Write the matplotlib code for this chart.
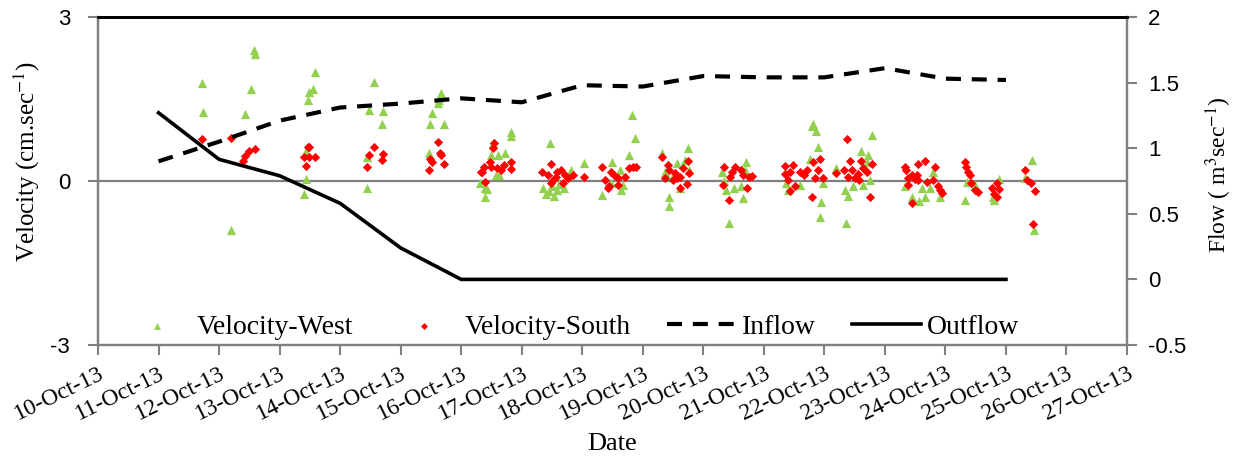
import datetime
import matplotlib
matplotlib.use("Agg")
import matplotlib.pyplot as plt
import matplotlib.dates as mdates

plt.rcParams['mathtext.fontset'] = 'stix'
plt.rcParams['axes.unicode_minus'] = False

# day-of-month (October 2013, fractional) and velocity (cm/sec)
west_day = [11.71, 11.73, 12.19, 12.43, 12.52, 12.58, 12.60,
            13.41, 13.43, 13.44, 13.47, 13.49, 13.55, 13.59,
            14.44, 14.45, 14.48, 14.56, 14.70, 14.71,
            15.47, 15.49, 15.51, 15.61, 15.63, 15.66, 15.72,
            16.31, 16.40, 16.40, 16.42, 16.50, 16.52, 16.57, 16.61, 16.63, 16.73, 16.82, 16.83,
            17.35, 17.40, 17.45, 17.46, 17.50, 17.53, 17.58, 17.62, 17.70, 17.81, 18.03,
            18.32, 18.48, 18.49, 18.62, 18.64, 18.67, 18.77, 18.82, 18.87,
            19.32, 19.37, 19.43, 19.44, 19.50, 19.57, 19.61, 19.69, 19.75, 19.77,
            20.31, 20.35, 20.38, 20.42, 20.51, 20.62, 20.66, 20.69, 20.70,
            21.37, 21.40, 21.59, 21.76, 21.79, 21.82, 21.87, 21.89, 21.93, 21.95, 21.98,
            22.20, 22.34, 22.36, 22.39, 22.48, 22.60, 22.64, 22.70, 22.72, 22.75, 22.78,
            23.33, 23.44, 23.56, 23.61, 23.66, 23.75, 23.80, 23.91,
            24.33, 24.35, 24.49, 24.78, 24.80, 24.88,
            25.32, 25.43, 25.46]
west_vel = [1.79, 1.27, -0.90, 1.22, 1.69, 2.40, 2.33,
            -0.24, 0.04, 0.55, 1.49, 1.63, 1.68, 2.00,
            -0.13, 0.44, 1.30, 1.82, 1.05, 1.28,
            0.51, 1.05, 1.24, 1.43, 1.48, 1.61, 1.05,
            -0.04, -0.12, -0.29, -0.14, 0.48, 0.70, 0.11, 0.48, 0.11, 0.52, 0.90, 0.82,
            -0.13, -0.24, -0.18, 0.70, -0.10, -0.27, -0.16, -0.05, -0.12, 0.20, 0.33,
            -0.26, -0.04, 0.35, 0.21, -0.16, -0.08, 0.48, 1.21, 0.78,
            0.52, 0.17, -0.46, -0.29, 0.10, 0.33, -0.13, 0.38, 0.60, 0.20,
            0.17, 0.00, -0.16, -0.77, -0.12, -0.09, -0.32, 0.20, 0.35,
            -0.03, -0.16, -0.07, 0.41, 1.01, 1.04, 0.92, 0.63, -0.65, -0.38, -0.04,
            0.23, -0.16, -0.77, -0.27, -0.10, 0.54, -0.07, 0.35, 0.48, 0.02, 0.84,
            -0.10, -0.29, -0.36, -0.13, -0.29, -0.12, 0.17, -0.29,
            -0.35, -0.01, -0.07, -0.30, -0.35, 0.03,
            0.05, 0.38, -0.90]

south_day = [11.72, 12.19, 12.40, 12.43, 12.50, 12.59,
             13.41, 13.43, 13.47, 13.48, 13.49, 13.58,
             14.44, 14.48, 14.56, 14.69, 14.71,
             15.47, 15.49, 15.51, 15.61, 15.65, 15.66, 15.72,
             16.32, 16.35, 16.38, 16.40, 16.48, 16.50, 16.53, 16.54, 16.60, 16.66, 16.71, 16.82, 16.83,
             17.34, 17.43, 17.48, 17.48, 17.51, 17.57, 17.59, 17.65, 17.68, 17.72, 17.76, 17.84, 18.03,
             18.32, 18.37, 18.42, 18.45, 18.48, 18.53, 18.59, 18.59, 18.70, 18.78, 18.84, 18.89,
             19.32, 19.37, 19.42, 19.44, 19.50, 19.53, 19.57, 19.62, 19.62, 19.66, 19.73, 19.75, 19.77,
             20.33, 20.35, 20.42, 20.44, 20.47, 20.52, 20.63, 20.66, 20.73, 20.75, 20.81,
             21.35, 21.35, 21.40, 21.43, 21.43, 21.49, 21.52, 21.59, 21.67, 21.72, 21.80,
             21.82, 21.84, 21.89, 21.93, 21.97,
             22.20, 22.33, 22.38, 22.39, 22.42, 22.45, 22.50, 22.55, 22.58, 22.60, 22.64, 22.70, 22.75, 22.79,
             23.34, 23.35, 23.38, 23.39, 23.44, 23.45, 23.50, 23.53, 23.55, 23.55, 23.66, 23.69,
             23.80, 23.83, 23.87, 23.91, 23.95,
             24.33, 24.34, 24.37, 24.41, 24.43, 24.49, 24.54,
             24.77, 24.80, 24.85, 24.85, 24.88,
             25.32, 25.35, 25.42, 25.45, 25.48]
south_vel = [0.76, 0.79, 0.37, 0.46, 0.54, 0.58,
             0.43, 0.27, 0.62, 0.43, 0.62, 0.43,
             0.25, 0.48, 0.63, 0.38, 0.49,
             0.20, 0.41, 0.35, 0.71, 0.52, 0.48, 0.31,
             0.17, 0.17, 0.26, -0.01, 0.35, 0.26, 0.60, 0.70, 0.23, 0.20, 0.29, 0.22, 0.35,
             0.17, 0.11, 0.31, -0.04, 0.02, 0.08, 0.17, 0.20, -0.04, 0.11, 0.05, 0.11, 0.07,
             0.26, 0.02, -0.13, -0.10, 0.17, 0.11, -0.07, 0.05, 0.07, 0.23, 0.25, 0.26,
             0.44, 0.05, 0.29, 0.20, 0.02, 0.14, 0.05, 0.08, -0.13, 0.23, -0.05, 0.37, 0.14,
             -0.07, 0.26, -0.35, 0.08, 0.17, 0.26, 0.20, 0.11, -0.13, 0.08, 0.09,
             0.27, 0.13, 0.01, 0.17, -0.18, 0.29, -0.09, 0.17, 0.11, 0.20, -0.29,
             0.35, 0.05, 0.21, 0.40, 0.05,
             0.14, 0.20, 0.76, 0.08, 0.37, 0.20, 0.05, 0.12, 0.02, 0.37, 0.23, 0.17, -0.29, 0.32,
             0.26, 0.21, -0.07, 0.05, 0.11, -0.40, 0.03, 0.11, 0.31, 0.02, 0.37, -0.01,
             0.02, 0.26, -0.09, -0.16, -0.22,
             0.35, 0.26, 0.17, 0.11, -0.04, -0.16, -0.20,
             -0.13, -0.24, -0.04, -0.29, -0.15,
             0.20, 0.02, -0.04, -0.79, -0.18]

# daily flow (m3/sec)
flow_day = [11, 12, 13, 14, 15, 16, 17, 18, 19, 20, 21, 22, 23, 24, 25]
inflow = [0.90, 1.05, 1.21, 1.31, 1.34, 1.38, 1.35, 1.48, 1.47, 1.55, 1.54, 1.54, 1.61, 1.53, 1.52]
outflow = [1.27, 0.915, 0.79, 0.58, 0.24, 0.0, 0.0, 0.0, 0.0, 0.0, 0.0, 0.0, 0.0, 0.0, 0.0]

base = mdates.date2num(datetime.datetime(2013, 10, 1))


def to_num(days):
    return [base + d - 1 for d in days]


serif = 'Liberation Serif'
sans = 'Liberation Sans'
grey = '#808080'

fig = plt.figure(figsize=(12.36, 4.57), dpi=100)
ax = fig.add_axes([0.0793, 0.2451, 0.8325, 0.7177])
ax2 = ax.twinx()

ax.axhline(0, color=grey, lw=1.6, zorder=1)
sw = ax.scatter(to_num(west_day), west_vel, marker='^', s=44, color='#92D050',
                linewidths=0, zorder=2, label='Velocity-West')
ss = ax.scatter(to_num(south_day), south_vel, marker='D', s=22, color='#FF0000',
                linewidths=0, zorder=3, label='Velocity-South')

li, = ax2.plot(to_num(flow_day), inflow, color='black', lw=3,
               linestyle=(0, (3.6, 2.6)), label='Inflow')
lo, = ax2.plot(to_num(flow_day), outflow, color='black', lw=2.6, label='Outflow')

ax.set_xlim(base + 9, base + 26)
ax.set_ylim(-3, 3)
ax.set_yticks([-3, 0, 3])
ax2.set_ylim(-0.5, 2)
ax2.set_yticks([-0.5, 0, 0.5, 1, 1.5, 2])
ax2.set_yticklabels(['-0.5', '0', '0.5', '1', '1.5', '2'])

ax.xaxis.set_major_locator(mdates.DayLocator())
ax.xaxis.set_major_formatter(mdates.DateFormatter('%d-%b-%y'))
for lab in ax.get_xticklabels():
    lab.set_rotation(26)
    lab.set_ha('right')
    lab.set_rotation_mode('anchor')
    lab.set_fontfamily(serif)
    lab.set_fontsize(17)

for a in (ax, ax2):
    for lab in a.get_yticklabels():
        lab.set_fontfamily(sans)
        lab.set_fontsize(16)
    a.tick_params(axis='y', length=7, width=1.5, color=grey, pad=8)
    for s in a.spines.values():
        s.set_color(grey)
        s.set_linewidth(1.6)
    a.spines['top'].set_color('black')
    a.spines['top'].set_linewidth(2)
ax.tick_params(axis='y', pad=13)
ax.tick_params(axis='x', length=7, width=1.5, color=grey, pad=6)

ax.set_xlabel('Date', fontfamily=serif, fontsize=19, labelpad=6)
ax.set_ylabel(r'Velocity (cm.sec$^{-1}$)', fontfamily=serif, fontsize=18)
ax.yaxis.set_label_coords(-0.054, 0.56)
ax2.set_ylabel(r'Flow ( m$^{3}$sec$^{-1}$)', fontfamily=serif, fontsize=17, rotation=90)
ax2.yaxis.set_label_coords(1.074, 0.52)

leg = ax.legend(handles=[sw, ss, li, lo], loc='lower center', ncol=4, frameon=False,
                prop={'family': serif, 'size': 20}, markerscale=0.75,
                bbox_to_anchor=(0.459, -0.06), columnspacing=1.3, handlelength=2.5,
                handletextpad=0.2)
leg.set_zorder(10)

fig.savefig('out.png', dpi=100)
